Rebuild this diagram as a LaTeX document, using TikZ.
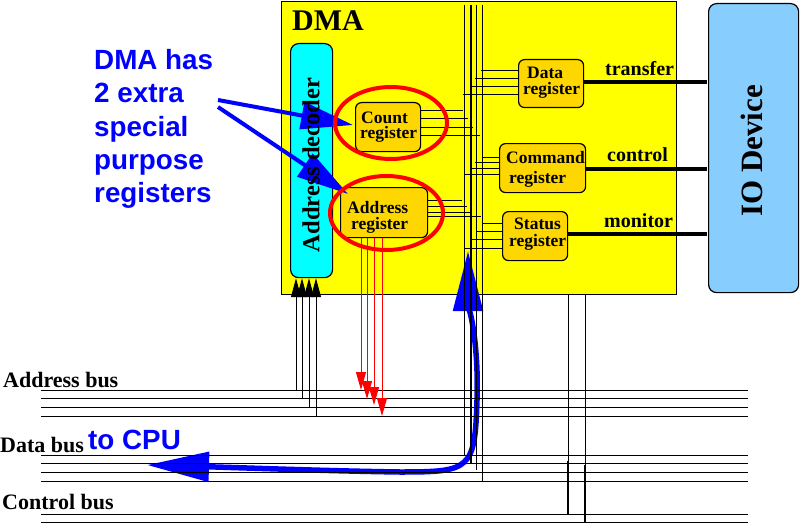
\documentclass[tikz,border=0pt]{standalone}
\usepackage{fontspec}
\setmainfont{Liberation Serif}
\newfontfamily\sansf{Liberation Sans}
\usetikzlibrary{arrows.meta,shapes.geometric}
\definecolor{regfill}{HTML}{FFD700}
\definecolor{iofill}{HTML}{87CEFF}
\definecolor{decfill}{HTML}{00FFFF}
\definecolor{dmafill}{HTML}{FFFF00}
\definecolor{bluex}{HTML}{0000FF}
\definecolor{redx}{HTML}{FF0000}
\tikzset{
  x=1pt,y=-1pt,
  wire/.style={line width=1pt,black},
  thick wire/.style={line width=4pt,black,line cap=butt},
  mid wire/.style={line width=2pt,black},
  low wire/.style={line width=2.5pt,black},
  box/.style={draw=black,line width=1.2pt,rounded corners=6pt,inner sep=0,anchor=north west},
  reg/.style={box,fill=regfill},
  ring/.style={ellipse,draw=redx,line width=4pt,inner sep=0},
  lbl/.style={anchor=base west,inner sep=0,font=\fontsize{17.5}{18}\selectfont\bfseries},
  sig/.style={anchor=base west,inner sep=0,font=\fontsize{20}{22}\selectfont\bfseries},
  buslbl/.style={anchor=base west,inner sep=0,font=\fontsize{22}{23}\selectfont\bfseries},
  note/.style={anchor=base west,inner sep=0,text=bluex,font=\fontsize{27.8}{30}\selectfont\sansf\bfseries},
  redarrow/.style={line width=1pt,redx,-{Triangle[length=18pt,width=10pt,redx]}},
  blackarrow/.style={wire,-{Triangle[length=19pt,width=10pt,black]}},
  bluearrow/.style={bluex,line width=4pt,-{Triangle[length=52pt,width=27pt,bluex]}},
}
\begin{document}
\begin{tikzpicture}
\useasboundingbox (0,0) rectangle (800,524);
\fill[white] (0,0) rectangle (800,524);
% outer boxes
\node[box,rounded corners=0,fill=dmafill,minimum width=395pt,minimum height=293pt] (dma) at (281,1) {};
\node[box,fill=iofill,rounded corners=8pt,minimum width=90pt,minimum height=289pt] (io) at (708,3) {};
\node[box,rounded corners=8pt,fill=decfill,minimum width=42pt,minimum height=234pt] (dec) at (290,43) {};
% big blue arrow
\coordinate (btip) at (468,251);
\coordinate (ctip) at (147,465);
\coordinate (bm) at (477,400);
\draw[bluex,line width=5.5pt,{Triangle[length=60pt,width=29pt,bluex]}-{Triangle[length=62pt,width=29pt,bluex]}]
  (btip) .. controls (468,300) and (479,340) .. (bm)
  .. controls (475,470) and (470,472) .. (400,472)
  .. controls (330,471) and (250,468) .. (ctip);
% horizontal buses
\foreach \y in {390,398,407,416,455,463,472,481,514,522}{
  \coordinate (bl) at (41,\y);
  \coordinate (br) at (748,\y);
  \draw[wire] (bl) -- (br);
}
% internal vertical bus
\coordinate (va) at (464,5);  \coordinate (vae) at (464,455);
\coordinate (vb) at (470.5,5);\coordinate (vbe) at (470.5,463);
\coordinate (vc) at (476,5);  \coordinate (vce) at (476,470);
\coordinate (vd) at (482,5);  \coordinate (vde) at (482,481);
\draw[wire] (va) -- (vae);
\draw[mid wire] (vb) -- (vbe);
\draw[wire] (vc) -- (vce);
\draw[wire] (vd) -- (vde);
% registers
\node[reg,minimum width=65pt,minimum height=49pt] (count) at (355,102) {};
\node[reg,minimum width=87pt,minimum height=50pt] (addr) at (340,187) {};
\node[reg,minimum width=65pt,minimum height=48pt] (data) at (518,59) {};
\node[reg,minimum width=86pt,minimum height=49pt] (cmd) at (499,143) {};
\node[reg,minimum width=65pt,minimum height=49pt] (stat) at (502,211) {};
% stubs
\foreach \y/\x in {111/463,119/468,128/473,136/480}{
  \coordinate (e) at (\x,\y); \draw[wire] (count.east |- e) -- (e);
}
\foreach \y/\x in {200/462,206/467,212/472,216/481}{
  \coordinate (e) at (\x,\y); \draw[wire] (addr.east |- e) -- (e);
}
\foreach \y/\x in {71/481,79/475,87/470,95/463}{
  \coordinate (e) at (\x,\y); \draw[wire] (data.west |- e) -- (e);
}
\foreach \y/\x in {157/483,162/475,168/470,174/464}{
  \coordinate (e) at (\x,\y); \draw[wire] (cmd.west |- e) -- (e);
}
\foreach \y/\x in {223/483,231/477,239/470,248/464}{
  \coordinate (e) at (\x,\y); \draw[wire] (stat.west |- e) -- (e);
}
% device links
\coordinate (iot) at (707,82);
\coordinate (ioc) at (707,169);
\coordinate (iom) at (707,233.5);
\draw[thick wire] (data.east |- iot) -- (iot);
\draw[thick wire] (cmd.east |- ioc) -- (ioc);
\draw[thick wire] (stat.east |- iom) -- (iom);
% decoder address lines
\foreach \x/\y in {296/390,302/398,309/407,316/416}{
  \coordinate (s) at (\x,\y);
  \draw[blackarrow] (s) -- (s |- dec.south);
}
% red lines
\foreach \x/\y in {361/390,367/399,374/405,382/416}{
  \coordinate (s) at (\x,\y);
  \draw[redarrow] (s |- addr.south) -- (s);
}
% lines to IO
\coordinate (ca) at (568,514); \coordinate (cb) at (585,522);
\coordinate (cam) at (568,461); \coordinate (cbm) at (585,465);
\draw[wire] (dma.south -| cam) -- (cam);
\draw[wire] (dma.south -| cbm) -- (cbm);
\draw[low wire] (cam) -- (ca);
\draw[low wire] (cbm) -- (cb);
% blue callouts
\coordinate (n1) at (218,100); \coordinate (n2) at (218,107);
\coordinate (t1) at (353,125); \coordinate (t2) at (348,194);
\draw[bluearrow] (n1) -- (t1);
\draw[bluearrow] (n2) -- (t2);
% rings
\node[ring,minimum width=112pt,minimum height=72pt] (r1) at (391,123) {};
\node[ring,minimum width=113pt,minimum height=74pt] (r2) at (386.5,213) {};
% text
\node[anchor=base west,inner sep=0,font=\fontsize{30}{32}\selectfont\bfseries] (dmal) at (292,31) {DMA};
\node[rotate=90,inner sep=0,font=\fontsize{24.5}{26}\selectfont\bfseries] (decl) at (311,165) {Address decoder};
\node[rotate=90,inner sep=0,font=\fontsize{31}{33}\selectfont\bfseries] (iol) at (752,151) {IO Device};
\node[lbl] (c1) at (361,124) {Count};
\node[lbl] (c2) at (360,139) {register};
\node[lbl] (a1) at (347,213) {Address};
\node[lbl] (a2) at (351,229) {register};
\node[lbl] (d1) at (527,79) {Data};
\node[lbl] (d2) at (523,95) {register};
\node[lbl] (m1) at (506,163) {Command};
\node[lbl] (m2) at (509,183) {register};
\node[lbl] (s1) at (514,229) {Status};
\node[lbl] (s2) at (509,246) {register};
\node[sig] (lt) at (605,76) {transfer};
\node[sig] (lc) at (607,161) {control};
\node[sig] (lm) at (604,227) {monitor};
\node[buslbl] (ba) at (3,387) {Address bus};
\node[buslbl] (bd) at (0,452) {Data bus};
\node[buslbl] (bc) at (2,509) {Control bus};
\node[note] (cpu) at (88,449) {to CPU};
\node[note] (n3a) at (94,70) {DMA has};
\node[note] (n3b) at (94,103) {2 extra};
\node[note] (n3c) at (94,136) {special};
\node[note] (n3d) at (94,169) {purpose};
\node[note] (n3e) at (94,202) {registers};
\end{tikzpicture}
\end{document}
